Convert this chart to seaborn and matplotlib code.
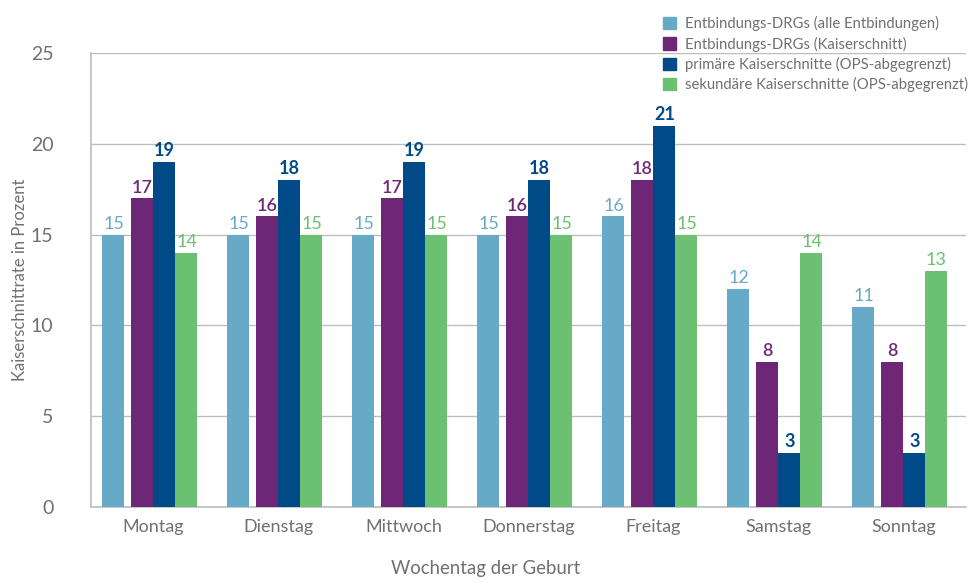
import matplotlib.pyplot as plt
import matplotlib.patches as mpatches
import numpy as np
import pandas as pd
import seaborn as sns

days = ['Montag', 'Dienstag', 'Mittwoch', 'Donnerstag', 'Freitag', 'Samstag', 'Sonntag']
series = ['Entbindungs-DRGs (alle Entbindungen)', 'Entbindungs-DRGs (Kaiserschnitt)',
          'primäre Kaiserschnitte (OPS-abgegrenzt)', 'sekundäre Kaiserschnitte (OPS-abgegrenzt)']
drg_alle = [15, 15, 15, 15, 16, 12, 11]
drg_ks = [17, 16, 17, 16, 18, 8, 8]
primaer = [19, 18, 19, 18, 21, 3, 3]
sekundaer = [14, 15, 15, 15, 15, 14, 13]

colors = ['#67aac8', '#6e2776', '#004a87', '#6cc072']
weights = ['normal', 'semibold', 'bold', 'normal']
grey = '#707070'
line_grey = '#bdbdbd'

df = pd.DataFrame({
    'Tag': days * 4,
    'Reihe': np.repeat(series, len(days)),
    'Wert': drg_alle + drg_ks + primaer + sekundaer,
})

sns.set_style('white')
plt.rcParams['font.family'] = ['Lato', 'DejaVu Sans']

fig = plt.figure(figsize=(9.71, 5.83), dpi=100)
ax = fig.add_axes([0.0937, 0.1304, 0.9011, 0.7786])

sns.barplot(data=df, x='Tag', y='Wert', hue='Reihe', order=days, hue_order=series,
            palette=colors, width=0.704, saturation=1, legend=False, ax=ax,
            linewidth=0, zorder=3)

# first series sits a little apart from the other three
for p in ax.containers[0]:
    p.set_x(p.get_x() - 0.056)

for cont, col, w in zip(ax.containers, colors, weights):
    ax.bar_label(cont, color=col, fontsize=13, fontweight=w, padding=2)

ax.set_xlim(-0.5, 6.5)
ax.set_ylim(0, 25)
ax.set_yticks([0, 5, 10, 15, 20, 25])
ax.yaxis.grid(True, color=line_grey, linewidth=1, zorder=0)
ax.set_axisbelow(True)
ax.tick_params(axis='y', length=13, color=line_grey, labelcolor=grey, labelsize=14, pad=14)
ax.tick_params(axis='x', length=0, labelcolor=grey, labelsize=13, pad=9)
for s in ['top', 'right']:
    ax.spines[s].set_visible(False)
for s in ['left', 'bottom']:
    ax.spines[s].set_color(line_grey)
    ax.spines[s].set_linewidth(1.2)

ax.set_ylabel('Kaiserschnittrate in Prozent', color=grey, fontsize=12, labelpad=2)
ax.set_xlabel('')
fig.text(0.5, 0.025, 'Wochentag der Geburt', color=grey, fontsize=13.4, ha='center', va='center')

handles = [mpatches.Patch(color=c, label=s) for c, s in zip(colors, series)]
fig.legend(handles=handles, loc='upper right', bbox_to_anchor=(1.008, 0.99), frameon=False,
           fontsize=10.7, labelcolor=grey, handlelength=0.9, handleheight=0.9,
           handletextpad=0.6, labelspacing=0.35, borderaxespad=0.3)

fig.savefig('out.png', dpi=100)
